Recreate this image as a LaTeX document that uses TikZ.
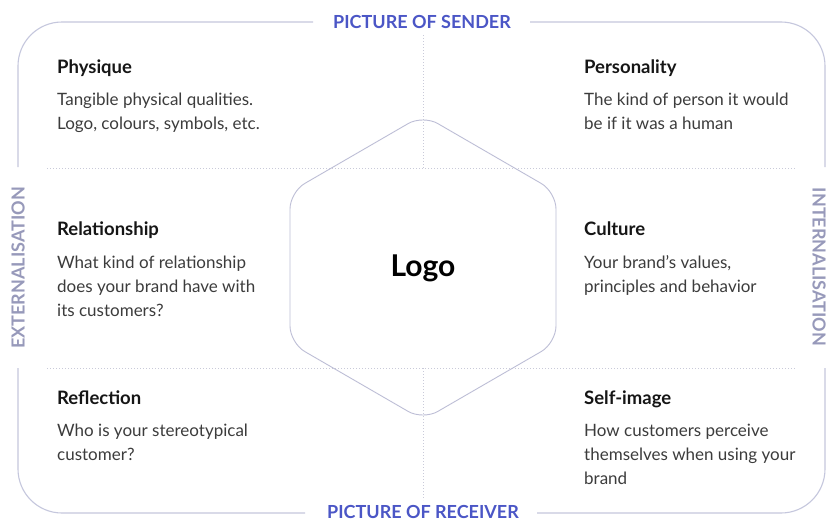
\documentclass[tikz,border=0pt]{standalone}
\usepackage{fontspec}
\setmainfont{Lato}
\definecolor{framec}{HTML}{C5C7DD}
\definecolor{dotc}{HTML}{C9CAD9}
\definecolor{hexc}{HTML}{BDBED6}
\definecolor{bluec}{HTML}{4B56C6}
\definecolor{sidec}{HTML}{9799BA}
\definecolor{headc}{HTML}{161616}
\definecolor{bodyc}{HTML}{3C3C3C}
\begin{document}
\begin{tikzpicture}[x=1pt,y=-1pt,
  frame/.style={draw=framec,line width=1.1pt},
  dotline/.style={draw=dotc,line width=0.8pt,dash pattern=on 0.8pt off 2.2pt},
  hex/.style={draw=hexc,line width=0.9pt},
  head/.style={anchor=base west,inner sep=0pt,text=headc,font=\fontsize{18.5}{22}\selectfont\bfseries},
  body/.style={anchor=base west,inner sep=0pt,text=bodyc,font=\fontsize{17}{20}\selectfont},
  toplabel/.style={inner sep=0pt,text=bluec,font=\fontsize{18}{20}\selectfont\bfseries},
  sidelabel/.style={inner sep=0pt,text=sidec,font=\fontsize{18}{20}\selectfont\bfseries}]
\useasboundingbox[fill=white] (0,0) rectangle (828,522);

% dotted guide lines
\coordinate (hl1a) at (47,168); \coordinate (hl1b) at (795,168);
\coordinate (hl2a) at (47,368); \coordinate (hl2b) at (795,368);
\coordinate (vl1a) at (423,35); \coordinate (vl1b) at (423,168);
\coordinate (vl2a) at (423,368); \coordinate (vl2b) at (423,500);
\draw[dotline] (hl1a) -- (hl1b);
\draw[dotline] (hl2a) -- (hl2b);
\draw[dotline] (vl1a) -- (vl1b);
\draw[dotline] (vl2a) -- (vl2b);

% outer frame
\coordinate (tl) at (18,22); \coordinate (tr) at (825,22);
\coordinate (bl) at (18,513); \coordinate (br) at (825,513);
\coordinate (t1) at (313,22); \coordinate (t2) at (530,22);
\coordinate (b1) at (305,513); \coordinate (b2) at (537,513);
\coordinate (l1) at (18,167); \coordinate (l2) at (18,368);
\coordinate (r1) at (825,167); \coordinate (r2) at (825,368);
\draw[frame,rounded corners=44pt] (t1) -- (tl) -- (l1);
\draw[frame,rounded corners=44pt] (t2) -- (tr) -- (r1);
\draw[frame,rounded corners=44pt] (l2) -- (bl) -- (b1);
\draw[frame,rounded corners=44pt] (b2) -- (br) -- (r2);

\node[toplabel] (sender) at (422,22) {PICTURE OF SENDER};
\node[toplabel] (receiver) at (423,512) {PICTURE OF RECEIVER};
\node[sidelabel,rotate=90] (ext) at (18,268) {EXTERNALISATION};
\node[sidelabel,rotate=-90] (int) at (819,267) {INTERNALISATION};

% hexagon
\coordinate (h1) at (423,115); \coordinate (h2) at (556,192);
\coordinate (h3) at (556,343); \coordinate (h4) at (423,420);
\coordinate (h5) at (290,343); \coordinate (h6) at (290,192);
\draw[hex,rounded corners=17pt] (h1) -- (h2) -- (h3) -- (h4) -- (h5) -- (h6) -- cycle;
\node[inner sep=0pt,text=black,font=\fontsize{30}{32}\selectfont\bfseries] (logo) at (423,268) {Logo};

% quadrants
\node[head] (phy) at (57,73) {Physique};
\node[body] (phy1) at (57,105) {Tangible physical qualities.};
\node[body] (phy2) at (57,129) {Logo, colours, symbols, etc.};

\node[head] (per) at (584,73) {Personality};
\node[body] (per1) at (584,105) {The kind of person it would};
\node[body] (per2) at (584,129) {be if it was a human};

\node[head] (rel) at (57,235) {Relationship};
\node[body] (rel1) at (57,268) {What kind of relationship};
\node[body] (rel2) at (57,292) {does your brand have with};
\node[body] (rel3) at (57,316) {its customers?};

\node[head] (cul) at (584,235) {Culture};
\node[body] (cul1) at (584,268) {Your brand’s values,};
\node[body] (cul2) at (584,292) {principles and behavior};

\node[head] (ref) at (57,404) {Reflection};
\node[body] (ref1) at (57,436) {Who is your stereotypical};
\node[body] (ref2) at (57,460) {customer?};

\node[head] (sel) at (584,404) {Self-image};
\node[body] (sel1) at (584,436) {How customers perceive};
\node[body] (sel2) at (584,460) {themselves when using your};
\node[body] (sel3) at (584,484) {brand};
\end{tikzpicture}
\end{document}
